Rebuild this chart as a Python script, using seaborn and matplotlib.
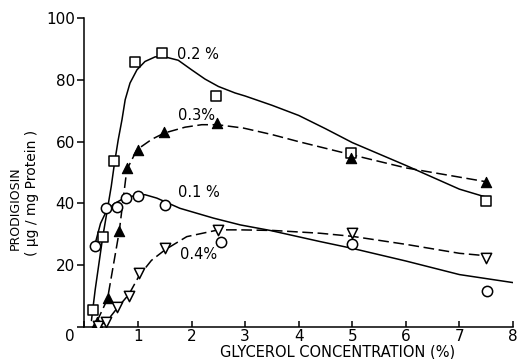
import matplotlib
matplotlib.use("Agg")
import matplotlib.pyplot as plt
import seaborn as sns
import pandas as pd

# ---- measured points (glycerol %, prodigiosin) ----
sq_x = [0.15, 0.34, 0.55, 0.95, 1.44, 2.45, 4.98, 7.5]
sq_y = [5.4, 29.2, 53.6, 85.7, 88.8, 74.7, 56.3, 40.9]

tri_x = [0.23, 0.43, 0.65, 0.79, 0.99, 1.49, 2.48, 4.98, 7.5]
tri_y = [1.6, 9.2, 31.0, 51.4, 57.4, 63.0, 66.0, 54.7, 46.8]

circ_x = [0.19, 0.41, 0.60, 0.78, 1.00, 1.51, 2.54, 5.0, 7.52]
circ_y = [26.3, 38.4, 38.8, 41.7, 42.4, 39.6, 27.6, 26.7, 11.7]

inv_x = [0.26, 0.41, 0.61, 0.83, 1.02, 1.51, 2.50, 4.99, 7.5]
inv_y = [0.2, 1.4, 6.5, 10.0, 17.3, 25.4, 31.4, 30.5, 22.2]

# ---- hand-drawn fitted curves ----
c02_x = [0.13, 0.2, 0.34, 0.5, 0.56, 0.63, 0.7, 0.76, 0.85, 0.98, 1.13, 1.32, 1.5, 1.75,
         2.0, 2.25, 2.5, 2.81, 3.0, 3.5, 4.0, 4.5, 5.0, 6.0, 7.0, 7.5]
c02_y = [2.0, 12.0, 29.0, 45.5, 53.0, 60.6, 67.1, 73.6, 79.0, 83.3, 86.0, 87.5, 87.5, 86.4,
         83.3, 80.3, 77.9, 75.8, 74.8, 71.8, 68.5, 64.2, 59.7, 52.3, 44.6, 42.0]

c03_x = [0.23, 0.43, 0.65, 0.79, 0.98, 1.26, 1.49, 1.88, 2.19, 2.48, 2.97, 3.5, 4.0, 5.0, 6.0, 7.0, 7.5]
c03_y = [1.6, 9.0, 31.0, 50.9, 57.4, 60.8, 62.8, 64.7, 65.5, 65.5, 64.4, 62.3, 60.0, 55.7, 51.5, 48.5, 47.0]

c01_x = [0.19, 0.3, 0.41, 0.55, 0.7, 0.85, 1.0, 1.13, 1.35, 1.78, 2.41, 2.91, 3.47,
         4.4, 5.0, 6.0, 7.0, 8.0]
c01_y = [26.3, 33.5, 37.5, 39.8, 41.3, 42.2, 42.6, 42.8, 41.7, 38.4, 35.2, 33.0, 31.2,
         27.6, 25.4, 21.3, 16.9, 14.3]

c04_x = [0.26, 0.41, 0.61, 0.83, 1.02, 1.25, 1.51, 1.91, 2.5, 2.9, 3.53, 4.4, 5.0, 6.0, 7.0, 7.5]
c04_y = [0.2, 1.6, 6.0, 10.5, 16.5, 21.5, 25.0, 29.2, 31.4, 31.4, 31.2, 30.3, 29.3, 26.7, 23.8, 23.0]

series_labels = ["0.2 %", "0.3%", "0.1 %", "0.4%"]
label_x = [1.73, 1.75, 1.75, 1.78]
label_y = [88.4, 68.4, 43.4, 23.3]

x_ticks = [1, 2, 3, 4, 5, 6, 7, 8]
y_ticks = [20, 40, 60, 80, 100]

sns.set_theme(style="ticks")
plt.rcParams['font.family'] = ['DejaVu Sans']
plt.rcParams['text.color'] = 'black'
plt.rcParams['xtick.color'] = 'black'
plt.rcParams['ytick.color'] = 'black'
plt.rcParams['axes.edgecolor'] = 'black'

fig = plt.figure(figsize=(5.17, 3.59), dpi=100)
ax = fig.add_axes([0.1634, 0.090, 0.8288, 0.859])

dash = (0, (7, 3))
for cx, cy, ls in [(c02_x, c02_y, '-'), (c03_x, c03_y, dash),
                   (c01_x, c01_y, '-'), (c04_x, c04_y, dash)]:
    df = pd.DataFrame({"x": cx, "y": cy})
    sns.lineplot(data=df, x="x", y="y", ax=ax, sort=False, estimator=None,
                 color="black", linewidth=1.1, linestyle=ls)

ms = 55
sns.scatterplot(x=sq_x, y=sq_y, ax=ax, marker='s', s=ms, facecolor='white',
                edgecolor='black', linewidth=1.1, zorder=5)
sns.scatterplot(x=tri_x, y=tri_y, ax=ax, marker='^', s=ms, color='black',
                edgecolor='black', linewidth=0.8, zorder=5)
sns.scatterplot(x=circ_x, y=circ_y, ax=ax, marker='o', s=ms, facecolor='white',
                edgecolor='black', linewidth=1.1, zorder=5)
sns.scatterplot(x=inv_x, y=inv_y, ax=ax, marker='v', s=ms, facecolor='white',
                edgecolor='black', linewidth=1.1, zorder=5)

for t, lx, ly in zip(series_labels, label_x, label_y):
    ax.text(lx, ly, t, fontsize=10.5, ha='left', va='center', color='black')

ax.set_xlim(0, 8)
ax.set_ylim(0, 100)
ax.set_xticks([0] + x_ticks)
ax.set_xticklabels([""] + [str(v) for v in x_ticks])
ax.set_yticks([0] + y_ticks)
ax.set_yticklabels([""] + [str(v) for v in y_ticks])
ax.tick_params(axis='x', direction='in', length=4, width=1.1, labelsize=11, pad=2,
               colors='black')
ax.tick_params(axis='y', direction='out', length=5, width=1.1, labelsize=11, pad=2,
               colors='black')
for s in ['top', 'right']:
    ax.spines[s].set_visible(False)
for s in ['left', 'bottom']:
    ax.spines[s].set_linewidth(1.1)
    ax.spines[s].set_color('black')
ax.set_xlabel("")
ax.set_ylabel("")
ax.text(-0.27, -3.3, "0", fontsize=11, ha='center', va='center', transform=ax.transData,
        clip_on=False, color='black')

fig.text(0.652, 0.0195, "GLYCEROL CONCENTRATION (%)", fontsize=10.5, ha='center', va='center',
         color='black')
fig.text(0.029, 0.421, "PRODIGIOSIN", fontsize=9, rotation=90, ha='center', va='center',
         color='black')
fig.text(0.062, 0.462, "( \u00b5g / mg Protein )", fontsize=10, rotation=90, ha='center',
         va='center', color='black')

fig.savefig("out.png", dpi=100)
